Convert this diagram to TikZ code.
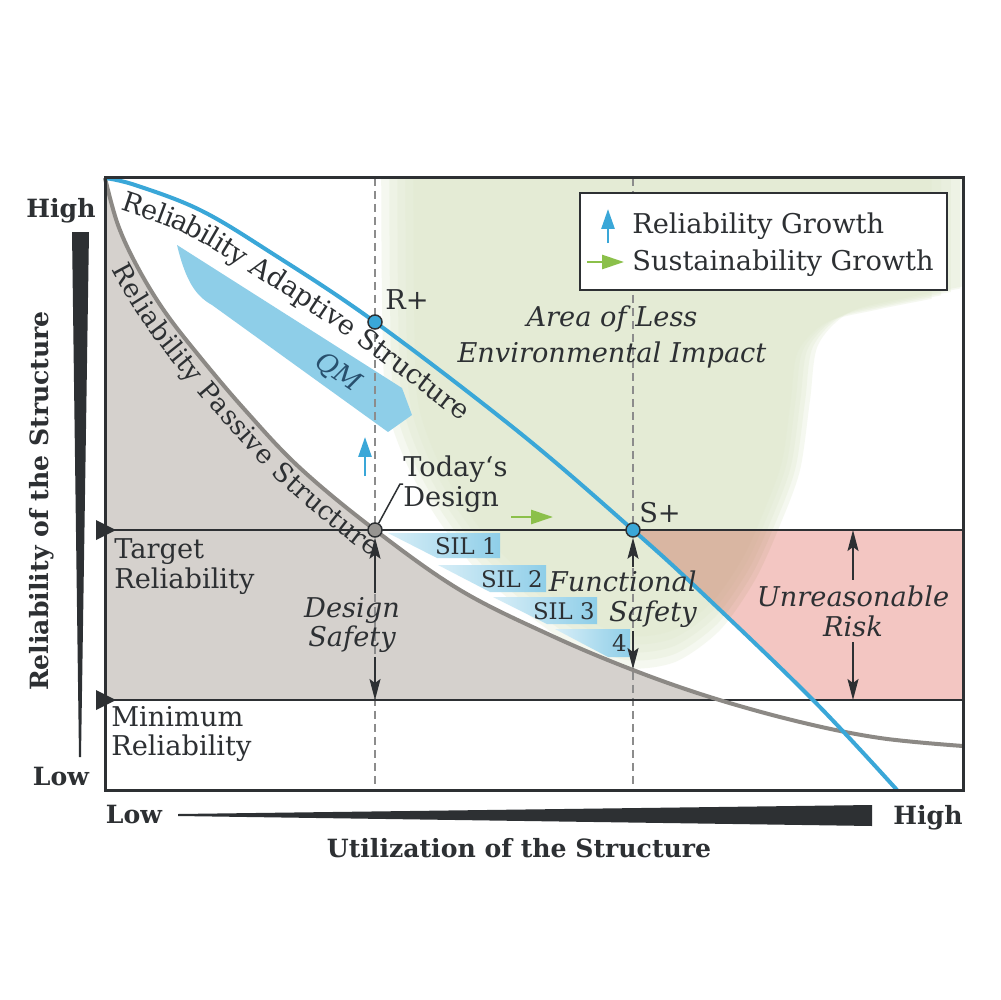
\documentclass[tikz,border=0pt]{standalone}
\usepackage{fontspec}
\setmainfont{DejaVu Serif}
\usepackage{xcolor}
\usetikzlibrary{arrows.meta,positioning,calc,decorations.text}

\definecolor{darkc}{RGB}{45,48,51}
\definecolor{grayfill}{RGB}{213,209,205}
\definecolor{curvegray}{RGB}{140,137,133}
\definecolor{curveblue}{RGB}{58,167,216}
\definecolor{markgray}{RGB}{150,148,145}
\definecolor{lblue}{RGB}{142,206,232}
\definecolor{pinkc}{RGB}{243,198,194}
\definecolor{greenc}{RGB}{224,233,206}
\definecolor{greenarr}{RGB}{139,192,74}
\definecolor{dashc}{RGB}{140,140,140}
\definecolor{qmtext}{RGB}{40,80,110}

\newcommand{\adaptcurve}{plot[smooth,tension=0.6] coordinates {(105,178) (135,185) (200,210) (270,252) (375,322) (520,433) (633,530) (700,591) (813,700) (897,790)}}
\newcommand{\passivecurve}{plot[smooth,tension=0.6] coordinates {(105,178) (118,225) (138,268) (165,312) (200,357) (245,410) (300,468) (375,530) (460,590) (550,635) (633,670) (713,698) (800,722) (880,738) (963,746)}}
\newcommand{\greenblob}{(970,100) -- (381,100) -- plot[smooth,tension=0.5] coordinates {(381,100) (382,300) (386,400) (405,460) (435,515) (475,568) (525,612) (575,648) (625,668) (675,662) (720,630) (755,580) (780,525) (800,470) (810,400) (818,345) (850,312) (905,298) (970,285)} -- cycle}

\begin{document}
\begin{tikzpicture}[x=0.02cm, y=-0.02cm, >=Stealth]

\tikzstyle{lbl}=[text=darkc, inner sep=0pt, font=\fontsize{15.5}{17}\selectfont]
\tikzstyle{ilbl}=[text=darkc, inner sep=0pt, font=\fontsize{15.5}{17}\selectfont\itshape]
\tikzstyle{blbl}=[text=darkc, inner sep=0pt, font=\fontsize{14.3}{17}\selectfont\bfseries]
\tikzstyle{sil}=[text=darkc, inner sep=0pt, font=\fontsize{13}{15}\selectfont]
\tikzstyle{silbox}=[left color=lblue!35, right color=lblue, draw=none]
\tikzstyle{dotmark}=[circle, draw=darkc, line width=0.3mm, minimum size=2.8mm, inner sep=0pt]
\tikzstyle{darr}=[darkc, line width=0.35mm, -{Stealth[length=4.2mm,width=2.2mm,inset=0.8mm]}]
\tikzstyle{blueup}=[curveblue, line width=0.55mm, -{Triangle[length=4mm,width=2.6mm]}]
\tikzstyle{greenright}=[greenarr, line width=0.55mm, -{Triangle[length=4.4mm,width=2.8mm]}]
\tikzstyle{dashline}=[dashc, line width=0.3mm, dash pattern=on 1.6mm off 1mm]
\tikzstyle{levelline}=[darkc, line width=0.4mm]

\useasboundingbox (0,0) rectangle (1000,1000);
\fill[white] (0,0) rectangle (1000,1000);

%green area
\begin{scope}
\clip (105,178) rectangle (963,790);
\foreach \s in {1.00,0.97,0.94,0.91,0.88}
  \fill[greenc, opacity=0.3, scale around={\s:(650,400)}] \greenblob;
\end{scope}

%gray area
\begin{scope}
\clip (105,178) rectangle (963,700);
\fill[grayfill] \passivecurve -- (963,800) -- (105,800) -- cycle;
\end{scope}

%unreasonable risk area
\begin{scope}
\clip \adaptcurve -- (963,790) -- (963,178) -- cycle;
\fill[pinkc, blend mode=multiply] (633,530) rectangle (963,700);
\end{scope}

%QM
\fill[lblue] (177,245) .. controls (186,282) and (196,296) .. (212,305) -- (388,432) -- (412,415) -- (402,388) -- cycle;
\node[sil, font=\fontsize{15}{17}\selectfont\itshape, text=qmtext, rotate=-34]
(qm) at (338,373) {QM};

%SIL steps
\shade[silbox] (388,533) -- (500,533) -- (500,558) -- (437,558) -- cycle;
\shade[silbox] (438,565) -- (546,565) -- (546,592) -- (490,592) -- cycle;
\shade[silbox] (493,597) -- (597,597) -- (597,624) -- (547,624) -- cycle;
\shade[silbox] (555,629) -- (630,629) -- (630,657) -- (608,657) -- cycle;
\node[sil, anchor=east] (sil1) at (497,546) {SIL 1};
\node[sil, anchor=east] (sil2) at (543,579) {SIL 2};
\node[sil, anchor=east] (sil3) at (595,611) {SIL 3};
\node[sil, anchor=east] (sil4) at (627,643) {4};

%grid
\draw[dashline] (375,178) -- (375,790);
\draw[dashline] (633,178) -- (633,790);
\coordinate (tgtl) at (105,530);
\coordinate (minl) at (105,700);
\draw[levelline] (tgtl) -- (963,530);
\draw[levelline] (minl) -- (963,700);
\fill[darkc] (96,520) -- (116,530) -- (96,540) -- cycle;
\fill[darkc] (96,690) -- (116,700) -- (96,710) -- cycle;

%curves
\draw[curvegray, line width=0.8mm] \passivecurve;
\draw[curveblue, line width=0.8mm] \adaptcurve;
\draw[darkc, line width=0.6mm] (105,178) rectangle (963,790);

\path[decorate, decoration={text along path, raise=-5.6mm, text align={left indent=0.5cm},
  text={|\fontsize{15.5}{18}\selectfont\color{darkc}|Reliability Adaptive Structure}}] \adaptcurve;
\path[decorate, decoration={text along path, raise=-4.8mm, text align={left indent=1.7cm},
  text={|\fontsize{15}{18}\selectfont\color{darkc}|Reliability Passive Structure}}] \passivecurve;

%points
\node[dotmark, fill=curveblue] (rplus) at (375,322) {};
\node[dotmark, fill=markgray] (today) at (375,530) {};
\node[dotmark, fill=curveblue] (splus) at (633,530) {};

\node[lbl, anchor=west] (rplustxt) at (385,300) {R+};
\node[lbl] (splustxt) at (660,513) {S+};
\node[lbl, anchor=west, align=left] (todaytxt) at (403,484) {Today‘s\\Design};
\coordinate (todayknee) at ($(todaytxt.west)+(-3,0)$);
\draw[darkc, line width=0.3mm] (today) -- (todayknee) -- (todaytxt.west);

%growth
\draw[blueup] (365,476) -- (365,437);
\draw[greenright] (511,517) -- (553,517);

%levels and safety
\node[lbl, anchor=west, align=left] (target) at (114,567) {Target\\Reliability};
\node[lbl, anchor=west, align=left] (minimum) at (111,734) {Minimum\\Reliability};

\node[ilbl, align=center, inner sep=2pt] (dsafe) at (352,625) {Design\\Safety};
\draw[darr] (dsafe.north -| today) -- (today);
\draw[darr] (dsafe.south -| today) -- (today |- minl);

\node[ilbl, align=right, inner xsep=0pt, inner ysep=2pt, anchor=east] (fsafe) at (697,599) {Functional\\Safety};
\coordinate (fsend) at (633,669);
\draw[darr] (fsafe.north -| splus) -- (splus);
\draw[darr] (fsafe.south -| splus) -- (fsend);

\node[ilbl, align=center, inner sep=3pt] (urisk) at (853,611) {Unreasonable\\Risk};
\draw[darr] (urisk.north) -- (urisk.north |- tgtl);
\draw[darr] (urisk.south) -- (urisk.south |- minl);

\node[ilbl, align=center, font=\fontsize{15.5}{20.5}\selectfont\itshape]
(area) at (612,337) {Area of Less\\Environmental Impact};

%legend
\node[draw=darkc, line width=0.45mm, fill=white, minimum width=7.34cm, minimum height=1.94cm, inner sep=0pt]
(legend) at (763.5,241.5) {};
\node[lbl, anchor=west] (lrel) at (632,226) {Reliability Growth};
\node[lbl, anchor=west] (lsus) at (632,263) {Sustainability Growth};
\draw[blueup] (608,243) -- (608,209);
\draw[greenright] (587,262) -- (624,262);

%axes
\node[blbl] (yhigh) at (61,211) {High};
\node[blbl] (ylow) at (61,777) {Low};
\fill[darkc] (72,232) -- (89,232) -- (81,757) -- (79,757) -- cycle;
\node[blbl, rotate=90] (ytitle) at (42,501) {Reliability of the Structure};
\node[blbl] (xlow) at (134,815) {Low};
\node[blbl] (xhigh) at (928,818) {High};
\fill[darkc] (178,814) -- (872,805) -- (872,826) -- (178,816) -- cycle;
\node[blbl] (xtitle) at (519,848) {Utilization of the Structure};

\end{tikzpicture}
\end{document}
